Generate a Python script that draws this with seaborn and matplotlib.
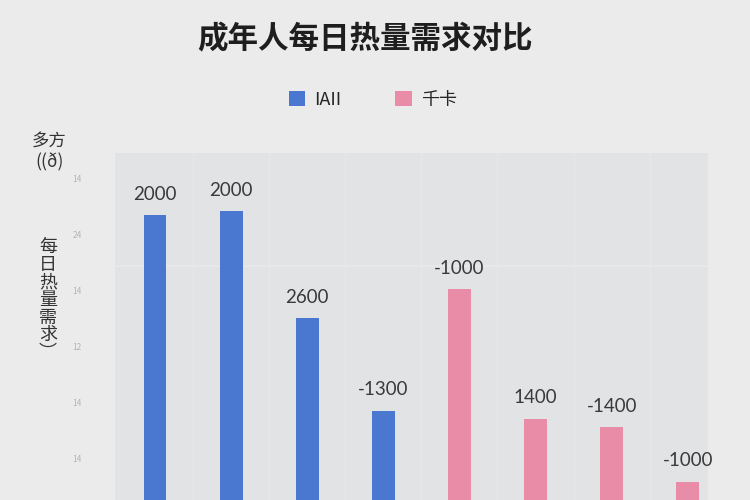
import pandas as pd
import seaborn as sns
import matplotlib.pyplot as plt
from matplotlib.patches import Patch

# данные
groups = ["组1", "组2", "组3", "组4", "组5", "组6", "组7", "组8"]
series = ["IAII", "IAII", "IAII", "IAII", "千卡", "千卡", "千卡", "千卡"]
heights = [2140, 2170, 1400, 740, 1610, 680, 620, 230]
bar_labels = ["2000", "2000", "2600", "-1300", "-1000", "1400", "-1400", "-1000"]
ytick_values = [2400, 2000, 1600, 1200, 800, 400]
ytick_labels = ["14", "24", "14", "12", "14", "14"]

df = pd.DataFrame({"group": groups, "series": series, "value": heights})

sns.set_theme(style="white")
plt.rcParams["font.family"] = ["Noto Sans CJK SC", "DejaVu Sans"]

palette = {"IAII": "#4a78d0", "千卡": "#e98ca7"}

fig = plt.figure(figsize=(7.5, 5), dpi=100)
fig.patch.set_facecolor("#ebebeb")
ax = fig.add_axes([0.1533, 0.0, 0.7907, 0.694])
ax.set_facecolor("#e2e3e4")

sns.barplot(data=df, x="group", y="value", hue="series", palette=palette,
            dodge=False, width=0.3, saturation=1, linewidth=0,
            legend=False, ax=ax)

# подписи над столбцами
for i, (h, lab) in enumerate(zip(heights, bar_labels)):
    ax.annotate(lab, xy=(i, h), xytext=(0, 9), textcoords="offset points",
                ha="center", va="bottom", fontsize=13.5, color="#3a3a3a",
                family=["Lato", "DejaVu Sans"])

ax.set_xlim(-0.526, 7.266)
ax.set_ylim(99, 2586)
ax.set_xticks([])
ax.set_yticks(ytick_values)
ax.set_yticklabels(ytick_labels, fontsize=6, color="#b5b5b5")
ax.tick_params(axis="y", length=0, pad=24)
ax.set_xlabel("")
ax.set_ylabel("")
for s in ax.spines.values():
    s.set_visible(False)

# бледная сетка
for k in range(len(groups) - 1):
    ax.axvline(k + 0.5, color="#e6e7e8", lw=1, zorder=0)
ax.axhline(1776, color="#eaeaea", lw=1.2, zorder=0)

# заголовок и легенда
fig.text(0.487, 0.922, "成年人每日热量需求对比", ha="center", va="center",
         fontsize=22, fontweight="bold", color="#1e1e1e")
handles = [Patch(facecolor=palette[s], edgecolor="none") for s in ["IAII", "千卡"]]
fig.legend(handles, ["IAII", "千卡"], loc="center", bbox_to_anchor=(0.497, 0.8),
           ncol=2, frameon=False, fontsize=13, handlelength=0.9, handleheight=0.9,
           columnspacing=3.0, handletextpad=0.5)

# подпись оси Y
fig.text(0.066, 0.696, "多方\n((ð)", ha="center", va="center", fontsize=12.5,
         color="#333333", linespacing=1.25)
fig.text(0.064, 0.40, "每\n日\n热\n量\n需\n求\n︶", ha="center", va="center",
         fontsize=13, color="#333333", linespacing=0.98)

fig.savefig("out.png", dpi=100, facecolor=fig.get_facecolor())
